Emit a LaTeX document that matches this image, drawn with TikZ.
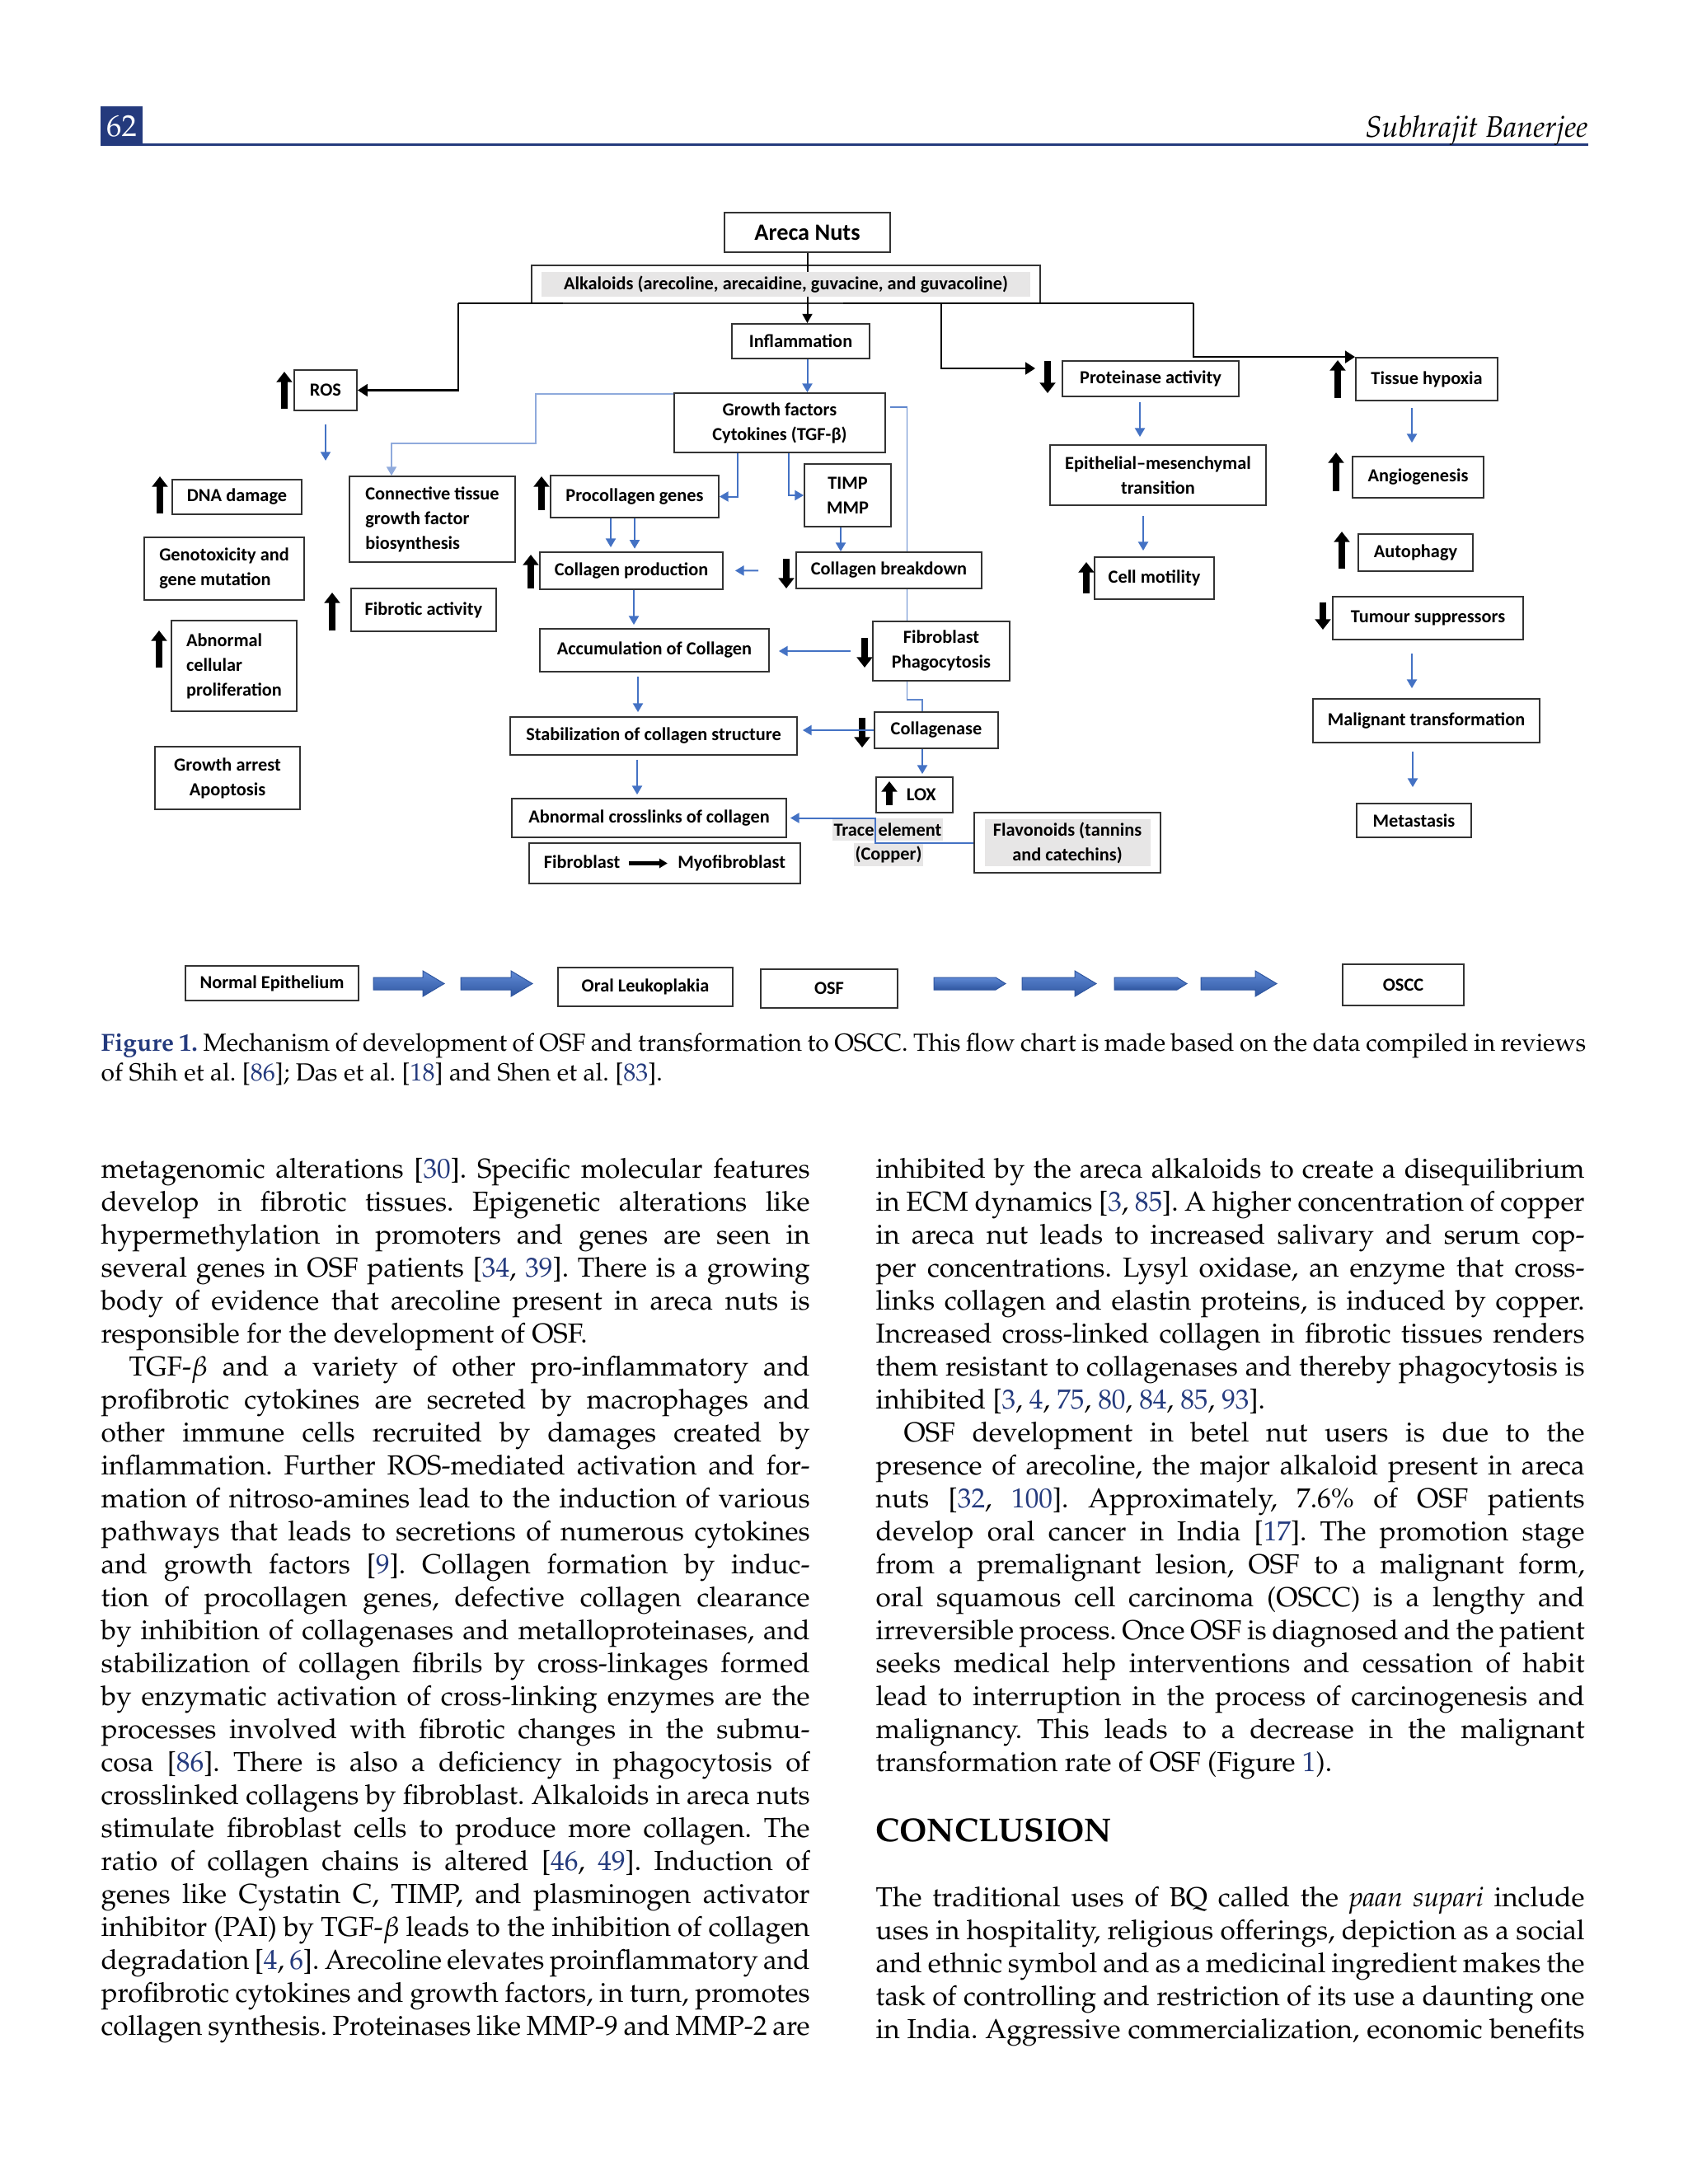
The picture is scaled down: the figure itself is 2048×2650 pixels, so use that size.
\documentclass[tikz,border=0pt]{standalone}
\usepackage{mathpazo}
\usepackage{fontspec}
\usetikzlibrary{arrows.meta}
\newfontfamily\cali{Carlito}
\newcommand\pal{\fontencoding{OT1}\fontfamily{ppl}\selectfont}
\definecolor{mdpiblue}{RGB}{36,58,125}
\definecolor{offblue}{RGB}{68,114,196}
\definecolor{hlgray}{RGB}{231,230,230}
\definecolor{arrtop}{RGB}{96,138,214}
\definecolor{arrbot}{RGB}{47,86,160}
% one text line of a column: justified, or ending a paragraph
\newdimen\colw \colw=258pt
\newcommand\jline[1]{\hbox to \colw{#1}}
\newcommand\eline[1]{\hbox to \colw{#1\hfil}}
\newcommand\ind{\hspace*{10.2pt}}
\newcommand\rf[1]{\textcolor{mdpiblue}{#1}}
% box from its corners: \bx[opts]{name}{x1}{y1}{x2}{y2}{text}
\newcommand\bx[7][]{\node[box,minimum width={(#5-#3)*0.3pt},minimum height={(#6-#4)*0.3pt},#1] (#2) at ({(#3+#5)/2},{(#4+#6)/2}) {#7};}
\tikzset{
  box/.style={draw=black!80, line width=0.55pt, fill=white, inner sep=0pt, align=center,
    font=\cali\bfseries\fontsize{6.7}{9}\selectfont},
  barr/.style={draw=offblue, line width=0.6pt, -{Triangle[length=3.2pt,width=3.6pt]}},
  lbline/.style={draw=offblue!85, line width=0.45pt},
  lbarr/.style={draw=offblue!60, line width=0.45pt, -{Triangle[length=3.2pt,width=3.6pt]}},
  karr/.style={line width=0.8pt, -{Triangle[length=3.6pt,width=4.4pt]}},
  kline/.style={line width=0.8pt},
  updn/.style={line width=2.3pt, -{Triangle[length=3.8pt,width=5.6pt]}},
  hilite/.style={fill=hlgray, inner sep=0pt, inner xsep=0.5pt, font=\cali\bfseries\fontsize{6.7}{9}\selectfont},
  blockarr/.style={top color=arrtop, bottom color=arrbot, draw=arrbot, line width=0.3pt},
  body/.style={anchor=base west, inner sep=0pt, font=\pal\fontsize{10}{12}\selectfont\frenchspacing},
}
\begin{document}
\begin{tikzpicture}[x=0.3pt, y=-0.3pt]
%%%%% PAGE %%%%%
\fill[white] (0,0) rectangle (2048,2650);
\useasboundingbox (0,0) rectangle (2048,2650);

%%%%% HEADER %%%%%
\node[fill=mdpiblue, text=white, inner sep=0pt, minimum width=15.3pt, minimum height=14.4pt,
  font=\pal\fontsize{11}{12}\selectfont] (pgno) at (147.5,153) {62};
\draw[mdpiblue, line width=1.1pt] (122,175.5) -- (1927,175.5);
\node[anchor=base east, inner sep=0pt, font=\pal\itshape\fontsize{10.8}{12}\selectfont] (author) at (1927,166) {Subhrajit Banerjee};

%%%%% BOXES %%%%%
\bx[font=\cali\bfseries\fontsize{8.5}{10}\selectfont]{areca}{879}{258}{1080}{306}{Areca Nuts}
\bx{alka}{645}{322}{1262}{368}{}
\bx{inflam}{888}{393}{1055}{435}{Inflammation}
\draw[line width=0.6pt, -{Triangle[length=3.4pt,width=3.6pt]}] (areca.south) -- (areca.south |- inflam.north);
\node[hilite, minimum width={(1250-657)*0.3pt}, minimum height={(360-330)*0.3pt}] (alkin) at (alka.center)
  {Alkaloids (arecoline, arecaidine, guvacine, and guvacoline)};
\bx{ros}{357}{449}{433}{498}{ROS}
\bx{growth}{818}{477}{1074}{549}{Growth factors\\Cytokines (TGF-β)}
\bx{prot}{1289}{438}{1503}{481}{Proteinase activity}
\bx{hypox}{1645}{434}{1817}{486}{Tissue hypoxia}

\bx[align=left]{ctgf}{424}{578}{625}{682}{Connective tissue\\growth factor\\biosynthesis}
\bx{dna}{209}{582}{366}{624}{DNA damage}
\bx[align=left]{geno}{175}{652}{369}{728}{Genotoxicity and\\gene mutation}
\bx{procol}{668}{577}{872}{628}{Procollagen genes}
\bx{timp}{976}{563}{1081}{639}{TIMP\\MMP}
\bx{emt}{1274}{540}{1536}{613}{Epithelial–mesenchymal\\transition}
\bx{angio}{1641}{554}{1800}{604}{Angiogenesis}

\bx{cprod}{655}{670}{877}{715}{Collagen production}
\bx{cbreak}{966}{670}{1191}{714}{Collagen breakdown}
\bx{motil}{1328}{676}{1473}{727}{Cell motility}
\bx{autoph}{1648}{648}{1787}{693}{Autophagy}
\bx{fibact}{426}{714}{602}{766}{Fibrotic activity}
\bx{tumour}{1617}{724}{1848}{776}{Tumour suppressors}

\bx[align=left]{abprol}{208}{753}{360}{863}{Abnormal\\cellular\\proliferation}
\bx{accum}{655}{763}{933}{815}{Accumulation of Collagen}
\bx{phago}{1059}{754}{1225}{826}{Fibroblast\\Phagocytosis}
\bx{malig}{1593}{848}{1868}{901}{Malignant transformation}
\bx{stab}{619}{870}{967}{916}{Stabilization of collagen structure}
\bx{collase}{1061}{864}{1211}{908}{Collagenase}
\bx{arrest}{188}{906}{364}{982}{Growth arrest\\Apoptosis}

\bx{lox}{1063}{943}{1156}{986}{\hspace*{5pt}LOX}
\bx{metas}{1646}{975}{1785}{1016}{Metastasis}
\bx{cross}{621}{969}{954}{1016}{Abnormal crosslinks of collagen}
\bx{myo}{642}{1023}{971}{1072}{Fibroblast\hspace{21pt}Myofibroblast}
\bx{flavo}{1182}{986}{1408}{1059}{}
\node[hilite, minimum width={(1394-1193)*0.3pt}, minimum height={(1051-994)*0.3pt}, align=center] (flavin) at (flavo.center)
  {Flavonoids (tannins\\and catechins)};
\node[hilite, minimum height=8.1pt] (trace1) at (1077,1006.5) {Trace element};
\node[hilite, minimum height=8.4pt] (trace2) at (1078,1037) {(Copper)};

%%%%% UP / DOWN MARKS %%%%%
\draw[updn] (345,496) -- (345,451);
\draw[updn] (1271,438) -- (1271,477);
\draw[updn] (1623,483) -- (1623,437);
\draw[updn] (194,623) -- (194,578);
\draw[updn] (657,619) -- (657,578);
\draw[updn] (644,714) -- (644,673);
\draw[updn] (954,678) -- (954,714);
\draw[updn] (403,765) -- (403,719);
\draw[updn] (193,810) -- (193,765);
\draw[updn] (1049,774) -- (1049,810);
\draw[updn] (1046,871) -- (1046,907);
\draw[updn] (1079,977) -- (1079,948);
\draw[updn] (1621,596) -- (1621,549);
\draw[updn] (1628,690) -- (1628,645);
\draw[updn] (1318,720) -- (1318,682);
\draw[updn] (1605,731) -- (1605,764);
\draw[line width=1.3pt, -{Triangle[length=3pt,width=3.4pt]}] ([xshift=-13pt]myo.center) -- ([xshift=1pt]myo.center);

%%%%% BLACK CONNECTORS %%%%%
\coordinate (busL) at (556,368);
\coordinate (busM) at (1142,368);
\coordinate (busR) at (1448,368);
\draw[kline] (busL) -- (683,368);
\draw[kline] (1023,368) -- (busR);
\draw[karr] (busL) |- (ros.east);
\draw[karr, shorten >=9.6pt] (busM) |- ([yshift=3.75pt]prot.west);
\draw[karr] (busR) |- (hypox.north west);

%%%%% BLUE CONNECTORS %%%%%
\draw[barr] (areca.south |- inflam.south) -- (areca.south |- growth.north);
\draw[barr] ([yshift=-4.8pt]ros.south) -- ++(0,-13.2pt);
\draw[lbarr] ([yshift=-0.6pt]growth.north west) -| (650,538) -| ([xshift=-14.85pt]ctgf.north);
\draw[barr] ([xshift=-15.3pt]growth.south) |- (procol.east);
\draw[barr] ([xshift=3.3pt]growth.south) |- (timp.west);
\draw[barr] ([xshift=-2.55pt]timp.south) coordinate (t0) -- (t0 |- cbreak.north);
\draw[barr, shorten >=1.5pt] ([xshift=-8.7pt]procol.south) coordinate (t1) -- (t1 |- cprod.north);
\draw[barr, shorten >=1pt] (procol.south) -- (procol.south |- cprod.north);
\draw[barr, shorten <=13.5pt, shorten >=4.2pt] (cbreak.west) -- (cprod.east);
\draw[barr, shorten >=1.2pt] ([xshift=0.9pt]cprod.south) coordinate (t2) -- (t2 |- accum.north);
\draw[barr, shorten <=7.8pt, shorten >=3.3pt] (phago.west) -- (phago.west -| accum.east);
\draw[barr, shorten <=1.5pt, shorten >=1.5pt] ([xshift=-6pt]accum.south) coordinate (t3) -- (t3 |- stab.north);
\draw[barr, shorten >=1.8pt] (collase.west) -- (collase.west -| stab.east);
\draw[barr, shorten <=1.5pt, shorten >=1.2pt] ([xshift=-6pt]stab.south) coordinate (t4) -- (t4 |- cross.north);
\draw[lbline] ([xshift=1.5pt,yshift=5.7pt]growth.east) -| ([xshift=6.6pt]cbreak.north);
\draw[lbline] ([xshift=6.6pt]cbreak.south) coordinate (t5) -- (t5 |- phago.north);
\draw[lbline] (t5 |- phago.south) -- ++(0,-6.6pt) -| ([xshift=-5.1pt]collase.north);
\draw[barr, shorten >=0.9pt] ([xshift=-5.1pt]collase.south) coordinate (t6) -- (t6 |- lox.north);
\draw[barr, shorten >=1.2pt] (flavo.west) -- (flavo.west -| lox.west) |- (cross.east);
\draw[barr, shorten <=1.8pt, shorten >=2.7pt] ([xshift=-3.9pt]prot.south) coordinate (t7) -- (t7 |- emt.north);
\draw[barr, shorten <=3.6pt, shorten >=2.1pt] ([xshift=-5.4pt]emt.south) coordinate (t8) -- (t8 |- motil.north);
\draw[barr, shorten <=2.4pt, shorten >=4.8pt] ([xshift=-5.4pt]hypox.south) coordinate (t9) -- (t9 |- angio.north);
\draw[barr, shorten <=4.8pt, shorten >=3.6pt] ([xshift=-5.85pt]tumour.south) coordinate (t10) -- (t10 |- malig.north);
\draw[barr, shorten <=3pt, shorten >=5.7pt] ([xshift=-4.95pt]malig.south) coordinate (t11) -- (t11 |- metas.north);

%%%%% STAGES %%%%%
\bx{normal}{225}{1172}{435}{1214}{Normal Epithelium}
\bx{leuko}{677}{1174}{889}{1221}{Oral Leukoplakia}
\bx{osf}{923}{1176}{1089}{1223}{OSF}
\bx{oscc}{1629}{1170}{1776}{1220}{OSCC}
\foreach \xa/\xb in {453/539, 559/646, 1240/1330, 1457/1549}
  \draw[blockarr] (\xa,1186) -- (\xb-26,1186) -- (\xb-26,1178) -- (\xb,1193.5) -- (\xb-26,1209) -- (\xb-26,1201) -- (\xa,1201) -- cycle;
\foreach \xa/\xb in {1133/1220, 1352/1440}
  \draw[blockarr] (\xa,1186) -- (\xb-12,1186) -- (\xb,1193.5) -- (\xb-12,1201) -- (\xa,1201) -- cycle;

%%%%% CAPTION %%%%%
\node[body, font=\pal\fontsize{9}{10.8}\selectfont\frenchspacing] (caption) at (122,1275) {\colw=540.5pt\vtop{%
\jline{{\bfseries\color{mdpiblue}Figure 1.} Mechanism of development of OSF and transformation to OSCC. This flow chart is made based on the data compiled in reviews}
\eline{of Shih et al. [\rf{86}]; Das et al. [\rf{18}] and Shen et al. [\rf{83}].}}};

%%%%% TEXT %%%%%
\node[body] (colL) at (122,1429) {\vtop{%
\jline{metagenomic alterations [\rf{30}]. Specific molecular features}
\jline{develop in fibrotic tissues. Epigenetic alterations like}
\jline{hypermethylation in promoters and genes are seen in}
\jline{several genes in OSF patients [\rf{34}, \rf{39}]. There is a growing}
\jline{body of evidence that arecoline present in areca nuts is}
\eline{responsible for the development of OSF.}
\jline{\ind TGF-$\beta$ and a variety of other pro-inflammatory and}
\jline{profibrotic cytokines are secreted by macrophages and}
\jline{other immune cells recruited by damages created by}
\jline{inflammation. Further ROS-mediated activation and for-}
\jline{mation of nitroso-amines lead to the induction of various}
\jline{pathways that leads to secretions of numerous cytokines}
\jline{and growth factors [\rf{9}]. Collagen formation by induc-}
\jline{tion of procollagen genes, defective collagen clearance}
\jline{by inhibition of collagenases and metalloproteinases, and}
\jline{stabilization of collagen fibrils by cross-linkages formed}
\jline{by enzymatic activation of cross-linking enzymes are the}
\jline{processes involved with fibrotic changes in the submu-}
\jline{cosa [\rf{86}]. There is also a deficiency in phagocytosis of}
\jline{crosslinked collagens by fibroblast. Alkaloids in areca nuts}
\jline{stimulate fibroblast cells to produce more collagen. The}
\jline{ratio of collagen chains is altered [\rf{46}, \rf{49}]. Induction of}
\jline{genes like Cystatin C, TIMP, and plasminogen activator}
\jline{inhibitor (PAI) by TGF-$\beta$ leads to the inhibition of collagen}
\jline{degradation [\rf{4}, \rf{6}]. Arecoline elevates proinflammatory and}
\jline{profibrotic cytokines and growth factors, in turn, promotes}
\jline{collagen synthesis. Proteinases like MMP-9 and MMP-2 are}}};

\node[body] (colR) at (1062,1429) {\vtop{%
\jline{inhibited by the areca alkaloids to create a disequilibrium}
\jline{in ECM dynamics [\rf{3}, \rf{85}]. A higher concentration of copper}
\jline{in areca nut leads to increased salivary and serum cop-}
\jline{per concentrations. Lysyl oxidase, an enzyme that cross-}
\jline{links collagen and elastin proteins, is induced by copper.}
\jline{Increased cross-linked collagen in fibrotic tissues renders}
\jline{them resistant to collagenases and thereby phagocytosis is}
\eline{inhibited [\rf{3}, \rf{4}, \rf{75}, \rf{80}, \rf{84}, \rf{85}, \rf{93}].}
\jline{\ind OSF development in betel nut users is due to the}
\jline{presence of arecoline, the major alkaloid present in areca}
\jline{nuts [\rf{32}, \rf{100}]. Approximately, 7.6\% of OSF patients}
\jline{develop oral cancer in India [\rf{17}]. The promotion stage}
\jline{from a premalignant lesion, OSF to a malignant form,}
\jline{oral squamous cell carcinoma (OSCC) is a lengthy and}
\jline{irreversible process. Once OSF is diagnosed and the patient}
\jline{seeks medical help interventions and cessation of habit}
\jline{lead to interruption in the process of carcinogenesis and}
\jline{malignancy. This leads to a decrease in the malignant}
\eline{transformation rate of OSF (Figure~\rf{1}).}}};

\node[anchor=base west, inner sep=0pt, font=\pal\bfseries\fontsize{12}{14}\selectfont] (concl) at (1062,2234) {CONCLUSION};

\node[body] (colR2) at (1062,2313) {\vtop{%
\jline{The traditional uses of BQ called the \textit{paan supari} include}
\jline{uses in hospitality, religious offerings, depiction as a social}
\jline{and ethnic symbol and as a medicinal ingredient makes the}
\jline{task of controlling and restriction of its use a daunting one}
\jline{in India. Aggressive commercialization, economic benefits}}};
\end{tikzpicture}
\end{document}
